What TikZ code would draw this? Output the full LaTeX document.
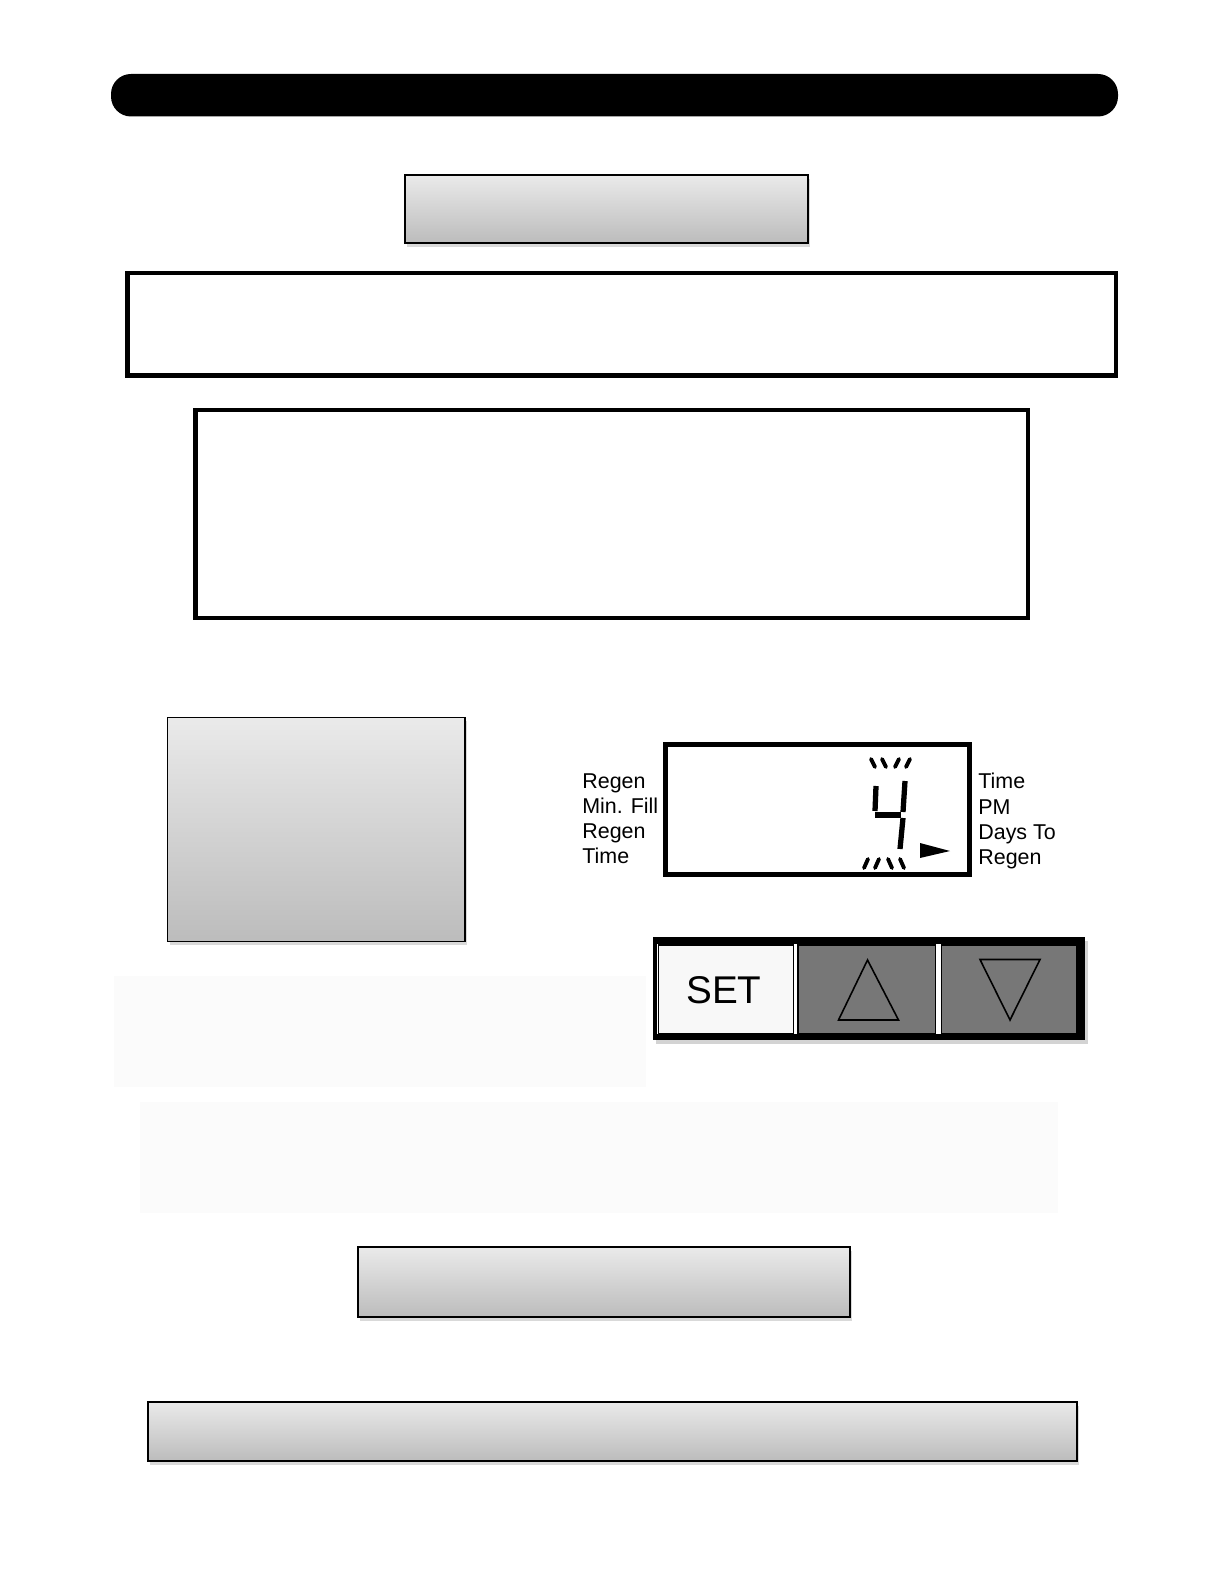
\documentclass[tikz,border=0pt]{standalone}
\usepackage{fontspec}
\setmainfont{Liberation Sans}
\usetikzlibrary{positioning}
\usetikzlibrary{shadows}

\definecolor{shadetop}{RGB}{234,234,234}
\definecolor{shadebot}{RGB}{188,188,188}
\definecolor{keygray}{RGB}{119,119,119}
\definecolor{keywhite}{RGB}{248,248,248}
\definecolor{faintfill}{RGB}{251,251,251}

\tikzset{
    panelbox/.style={draw=black, line width=1.1pt, top color=shadetop, bottom color=shadebot,
        drop shadow={opacity=0.3, shadow xshift=1.2pt, shadow yshift=-2.2pt}},
    textframe/.style={draw=black, line width=2.5pt, fill=white},
    lcdlabel/.style={font=\fontsize{12.2}{14.3}\selectfont, align=left, inner sep=0pt},
    segment/.style={line width=3pt},
    tick/.style={line width=2.2pt, line cap=round},
    keyface/.style={draw=black, line width=0.6pt},
}

\begin{document}
\begin{tikzpicture}[x=0.02cm, y=-0.02cm]
    \useasboundingbox (0,0) rectangle (1224,1584);

    % -------------------------------------------------------
    % 1. Title bar and the upper boxes
    % -------------------------------------------------------
    \fill[black, rounded corners=0.4cm] (111,74) rectangle (1118,116.5);
    \path[panelbox] (405,175) rectangle (808,243);
    \path[textframe] (127.5,273) rectangle (1116,375.5);
    \path[textframe] (195.5,410) rectangle (1028,618);

    % -------------------------------------------------------
    % 2. Left panel and faint background areas
    % -------------------------------------------------------
    \path[panelbox] (167.5,717.5) rectangle (465,941.5);
    \fill[faintfill] (114,976) rectangle (646,1087);
    \fill[faintfill] (140,1102) rectangle (1058,1213);

    % -------------------------------------------------------
    % 3. LCD display
    % -------------------------------------------------------
    \draw[line width=3pt] (665.5,744.5) rectangle (969.5,874.5);
    \node[lcdlabel, anchor=north west] (lcdLeft) at (582,773)
        {Regen\\Min. Fill\\Regen\\Time};
    \node[lcdlabel, anchor=north west] (lcdRight) at (978,773)
        {Time\\PM\\Days To\\Regen};

    % the digit "4" (seven segments)
    \draw[segment] (876,786) -- (875,811);
    \draw[segment] (875,815) -- (901,815);
    \draw[segment] (905,781) -- (903,812);
    \draw[segment] (903,818) -- (900,849);

    % blinking marks above and below the digit
    \foreach \xa/\dx in {873/2, 884/2, 897/-2, 908/-2} {
        \draw[tick] (\xa-\dx,759) -- (\xa+\dx,767);
    }
    \foreach \xa/\dx in {866/-2, 877/-2, 890/2, 902/2} {
        \draw[tick] (\xa-\dx,859) -- (\xa+\dx,868);
    }

    % pointer
    \fill (920,843) -- (950,851) -- (920,858) -- cycle;

    % -------------------------------------------------------
    % 4. Keypad
    % -------------------------------------------------------
    \fill[black, drop shadow={opacity=0.35, shadow xshift=1.5pt, shadow yshift=-2.5pt}]
        (653,936.5) rectangle (1085,1040);
    \fill[white] (657,944) rectangle (1077,1034);
    \path[keyface, fill=keywhite] (658.5,945) rectangle (793.5,1033.5);
    \path[keyface, fill=keygray] (798,945) rectangle (935.5,1033.5);
    \path[keyface, fill=keygray] (941.5,945) rectangle (1076.5,1033.5);

    \node[font=\fontsize{22}{26}\selectfont, inner sep=0pt] (setLabel) at (724,990.5) {SET};
    \draw[line width=0.9pt] (867.5,960) -- (898.5,1020) -- (838.5,1020) -- cycle;
    \draw[line width=0.9pt] (980,959.5) -- (1040,959.5) -- (1010,1020) -- cycle;

    % -------------------------------------------------------
    % 5. Lower boxes
    % -------------------------------------------------------
    \path[panelbox] (358,1247) rectangle (850,1317);
    \path[panelbox] (148,1402) rectangle (1077,1461);
\end{tikzpicture}
\end{document}
